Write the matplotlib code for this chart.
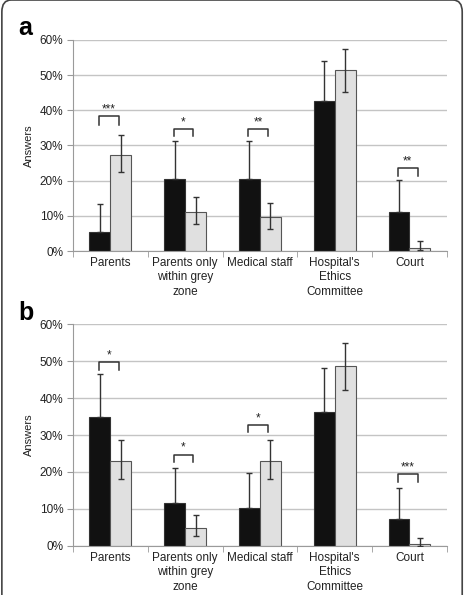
import matplotlib
matplotlib.use("Agg")
import matplotlib.pyplot as plt
from matplotlib.patches import FancyBboxPatch
import numpy as np

plt.rcParams['font.family'] = ['Liberation Sans', 'DejaVu Sans']

categories = ["Parents", "Parents only\nwithin grey\nzone", "Medical staff",
              "Hospital's\nEthics\nCommittee", "Court"]
yticks = [0, 10, 20, 30, 40, 50, 60]

# panel a
a_black = [5.5, 20.6, 20.6, 42.6, 11.1]
a_black_hi = [13.4, 31.2, 31.2, 53.9, 20.2]
a_grey = [27.4, 11.1, 9.6, 51.4, 0.9]
a_grey_lo = [22.4, 7.8, 6.4, 45.3, 0.4]
a_grey_hi = [33.1, 15.5, 13.7, 57.3, 2.9]
a_sig = [(0, 38.4, 35.7, '***'), (1, 34.6, 32.7, '*'),
         (2, 34.6, 32.7, '**'), (4, 23.5, 21.4, '**')]

# panel b
b_black = [34.8, 11.7, 10.2, 36.2, 7.3]
b_black_hi = [46.6, 21.2, 19.6, 48.0, 15.8]
b_grey = [23.1, 4.9, 23.1, 48.6, 0.4]
b_grey_lo = [18.2, 2.8, 18.2, 42.3, 0.1]
b_grey_hi = [28.7, 8.3, 28.7, 54.8, 2.2]
b_sig = [(0, 49.8, 47.6, '*'), (1, 24.7, 22.7, '*'),
         (2, 32.8, 30.9, '*'), (4, 19.5, 17.3, '***')]

W = 0.28
GRID = '#c4c4c4'
SPINE = '#9a9a9a'


def draw_panel(ax, black, black_hi, grey, grey_lo, grey_hi, sig, letter, letter_y):
    x = np.arange(len(categories))
    black = np.array(black)
    grey = np.array(grey)
    ax.set_axisbelow(True)
    ax.yaxis.grid(True, color=GRID, lw=1)
    ax.bar(x - W / 2, black, W, color='#111111', edgecolor='#333333', lw=0.8, zorder=2)
    ax.bar(x + W / 2, grey, W, color='#e0e0e0', edgecolor='#555555', lw=0.8, zorder=2)
    ax.errorbar(x - W / 2, black, yerr=[np.zeros(len(black)), np.array(black_hi) - black],
                fmt='none', ecolor='#333333', elinewidth=1, capsize=2.5, capthick=1, zorder=3)
    ax.errorbar(x + W / 2, grey, yerr=[grey - np.array(grey_lo), np.array(grey_hi) - grey],
                fmt='none', ecolor='#333333', elinewidth=1, capsize=2.5, capthick=1, zorder=3)
    for g, top, bot, stars in sig:
        x0, x1 = g - 0.155, g + 0.11
        ax.plot([x0, x0, x1, x1], [bot, top, top, bot], color='#333333', lw=1.1, zorder=3)
        ax.text((x0 + x1) / 2, top + 1.0, stars, ha='center', va='baseline',
                fontsize=8.5, color='#222222')
    ax.set_xlim(-0.5, len(categories) - 0.5)
    ax.set_ylim(0, 60)
    ax.set_yticks(yticks)
    ax.set_yticklabels([f'{t}%' for t in yticks], fontsize=8.5, color='#222222')
    ax.set_xticks(x)
    ax.set_xticklabels(categories, fontsize=8.5, color='#222222', linespacing=1.3)
    ax.set_xticks(np.arange(len(categories) + 1) - 0.5, minor=True)
    ax.tick_params(axis='x', which='major', length=0, pad=4)
    ax.tick_params(axis='x', which='minor', length=4, color=SPINE)
    ax.tick_params(axis='y', length=4, color=SPINE, pad=3)
    for s in ['top', 'right']:
        ax.spines[s].set_visible(False)
    for s in ['left', 'bottom']:
        ax.spines[s].set_color(SPINE)
    ax.set_ylabel('Answers', fontsize=8, color='#222222', labelpad=4)
    ax.text(-0.147, letter_y, letter, transform=ax.transAxes, fontsize=18,
            fontweight='bold', ha='left', va='center')


fig = plt.figure(figsize=(4.65, 5.95), dpi=100)
ax_a = fig.add_axes([0.157, 0.578, 0.804, 0.355])
ax_b = fig.add_axes([0.157, 0.0824, 0.804, 0.373])
draw_panel(ax_a, a_black, a_black_hi, a_grey, a_grey_lo, a_grey_hi, a_sig, 'a', 1.055)
draw_panel(ax_b, b_black, b_black_hi, b_grey, b_grey_lo, b_grey_hi, b_sig, 'b', 1.048)

border = FancyBboxPatch((0.004, -0.05), 0.99, 1.05, boxstyle='round,pad=0,rounding_size=0.02',
                        transform=fig.transFigure, fill=False, edgecolor='#444444', lw=1.2,
                        clip_on=False)
fig.patches.append(border)

fig.savefig('out.png', dpi=100)
